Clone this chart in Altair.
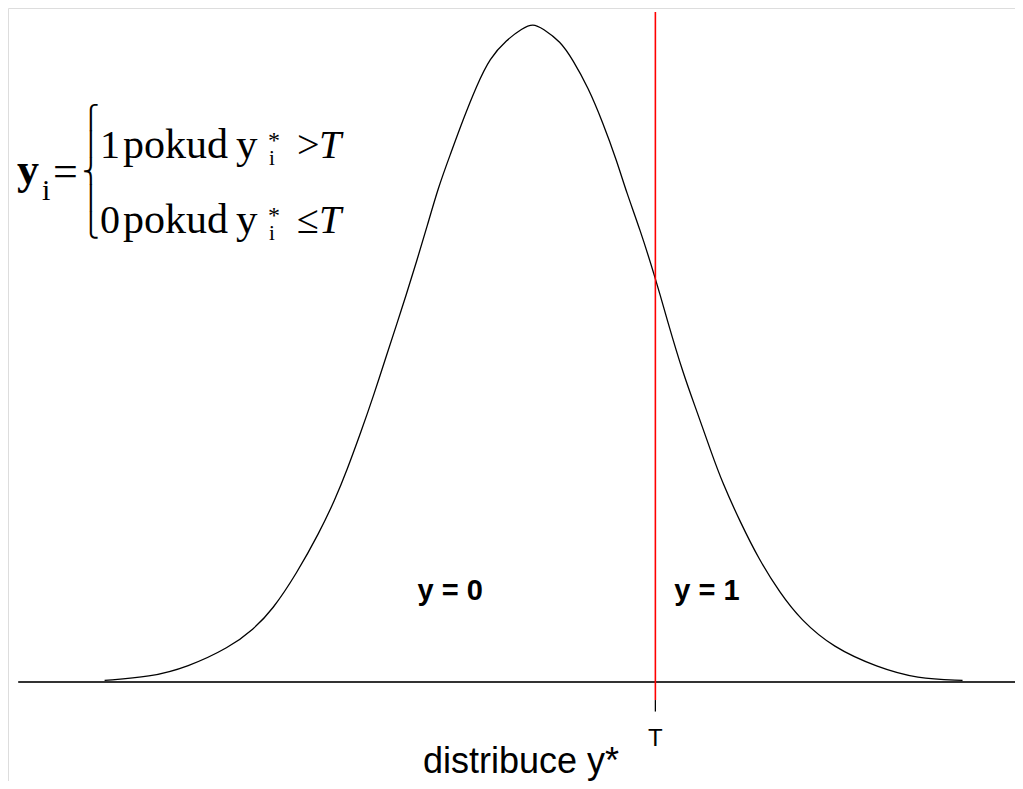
import altair as alt
import pandas as pd

# ---- values -----------------------------------------------------------
# latent variable y* (0 at the peak) and density height of the bell curve
curve_x = [-3.57, -3.19, -2.88, -2.53, -2.33, -2.17, -1.97, -1.78, -1.65, -1.55,
           -1.43, -1.33, -1.22, -1.13, -1.06, -0.97, -0.88, -0.79, -0.69, -0.58,
           -0.47, -0.36, -0.22, -0.09, 0.00, 0.08, 0.23, 0.33, 0.46, 0.58,
           0.70, 0.78, 0.89, 1.02, 1.12, 1.25, 1.37, 1.48, 1.58,
           1.73, 1.88, 2.06, 2.23, 2.50, 2.87, 3.20, 3.58]
curve_y = [0.001, 0.003, 0.009, 0.021, 0.032, 0.044, 0.066, 0.091, 0.111, 0.129,
           0.153, 0.174, 0.199, 0.219, 0.235, 0.256, 0.278, 0.301, 0.321, 0.343,
           0.363, 0.380, 0.391, 0.398, 0.401, 0.398, 0.390, 0.379, 0.362, 0.341,
           0.317, 0.298, 0.276, 0.246, 0.220, 0.188, 0.164, 0.141, 0.121,
           0.097, 0.075, 0.054, 0.038, 0.021, 0.009, 0.002, 0.001]
threshold = 1.02          # T
axis_start = -4.29        # left end of the horizontal axis line
region_labels = ["y = 0", "y = 1"]
region_x = [-0.69, 1.45]
tick_label = "T"
axis_title = "distribuce y*"

W, H = 1007, 773
xs = alt.Scale(domain=[-4.375, 4.017], nice=False, zero=False)
ys = alt.Scale(domain=[-0.0603, 0.4104], nice=False, zero=False)

curve_df = pd.DataFrame({"x": curve_x, "y": curve_y})
one = alt.Data(values=[{}])

baseline = alt.Chart(one).mark_rule(color="#333333", strokeWidth=2).encode(
    x=alt.X(datum=axis_start, scale=xs, axis=None),
    x2=alt.value(W),
    y=alt.Y(datum=0, scale=ys, axis=None),
)

curve = alt.Chart(curve_df).mark_line(color="black", strokeWidth=1.3,
                                      interpolate="basis").encode(
    x=alt.X("x:Q", scale=xs, axis=None),
    y=alt.Y("y:Q", scale=ys, axis=None),
)

red = alt.Chart(one).mark_rule(color="#ff0000", strokeWidth=1.6).encode(
    x=alt.X(datum=threshold, scale=xs, axis=None),
    y=alt.Y(datum=0.408, scale=ys, axis=None),
    y2=alt.Y2(datum=-0.011),
)

tick = alt.Chart(one).mark_rule(color="black", strokeWidth=1.3).encode(
    x=alt.X(datum=threshold, scale=xs, axis=None),
    y=alt.Y(datum=-0.011, scale=ys, axis=None),
    y2=alt.Y2(datum=-0.018),
)

regions = alt.Chart(pd.DataFrame({"x": region_x, "t": region_labels})).mark_text(
    font="Liberation Sans", fontSize=29, fontWeight="bold", align="center",
    baseline="alphabetic", color="black"
).encode(
    x=alt.X("x:Q", scale=xs, axis=None),
    y=alt.value(600 - 8),
    text="t:N",
)

tlabel = alt.Chart(one).mark_text(
    text=tick_label, font="Liberation Sans", fontSize=24, align="center",
    baseline="alphabetic", color="black"
).encode(x=alt.X(datum=threshold, scale=xs, axis=None), y=alt.value(746 - 8))

title = alt.Chart(one).mark_text(
    text=axis_title, font="Liberation Sans", fontSize=36, align="left",
    baseline="alphabetic", color="black"
).encode(x=alt.value(423 - 8), y=alt.value(773 - 8))


def txt(s, px, py, size, font="Liberation Serif", weight="normal",
        style="normal", line_height=None):
    kw = dict(text=s, font=font, fontSize=size, fontWeight=weight,
              fontStyle=style, align="left", baseline="alphabetic", color="black")
    if line_height is not None:
        kw["lineHeight"] = line_height
        kw["baseline"] = "top"
    return alt.Chart(one).mark_text(**kw).encode(
        x=alt.value(px - 8), y=alt.value(py - 8))


formula = [
    txt("y", 17, 184, 44, weight="bold"),
    txt("i", 42, 200, 30),
    txt("=", 53, 186, 44),
    txt(["⎧", "⎪", "⎨", "⎪", "⎩"], 82, 107, 23, font="DejaVu Sans",
        line_height=27),
]
for base, lead, rel in [(158, "1", ">"), (233, "0", "≤")]:
    formula += [
        txt(lead, 100, base, 40),
        txt("pokud", 123, base, 42),
        txt("y", 236, base, 43),
        txt("*", 268, base - 10, 24),
        txt("i", 269, base + 7, 21),
        txt(rel, 297, base, 40),
        txt("T", 319, base, 40, style="italic"),
    ]

chart = alt.layer(baseline, curve, red, tick, regions, tlabel, title, *formula).properties(
    width=W, height=H, padding=0, autosize=alt.AutoSizeParams(type="none")
).configure_view(stroke="transparent", strokeWidth=0).configure(background="white")

chart.save("out.html", embed_options={"renderer": "svg", "actions": False})
